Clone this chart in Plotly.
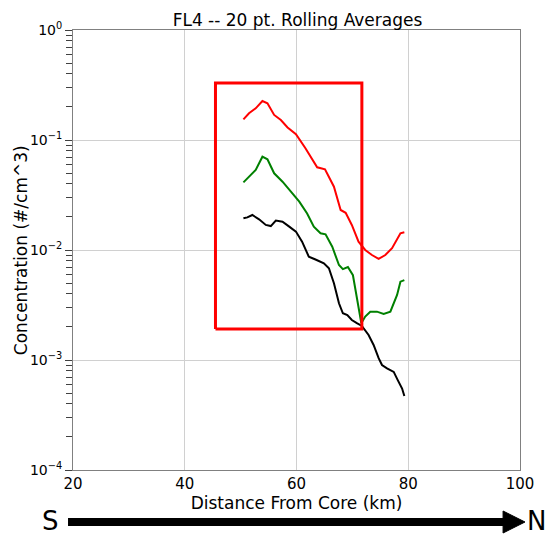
import plotly.graph_objects as go

# Distance from core (km) and concentrations (#/cm^3)
red_x = [50.5, 51.5, 52.7, 53.9, 54.8, 56.0, 57.2, 58.4, 59.9, 61.6, 63.7, 65.1, 66.7, 67.9,
         68.8, 69.9, 71.1, 72.3, 73.5, 74.7, 75.9, 77.1, 78.6, 79.3]
red_y = [0.154, 0.175, 0.194, 0.226, 0.216, 0.169, 0.152, 0.130, 0.113, 0.0841, 0.0565, 0.0542,
         0.0376, 0.0231, 0.0218, 0.0169, 0.0119, 0.0100, 0.0090, 0.0083, 0.0090, 0.0104, 0.0142, 0.0145]

green_x = [50.5, 51.5, 52.7, 53.9, 54.8, 56.0, 57.5, 59.0, 60.5, 61.9, 63.1, 64.3, 65.2, 66.4,
           67.6, 68.3, 69.2, 70.1, 70.8, 71.6, 72.3, 73.2, 74.4, 75.6, 76.8, 78.0, 78.6, 79.3]
green_y = [0.0412, 0.0464, 0.0534, 0.0705, 0.0668, 0.0498, 0.0418, 0.0339, 0.0275, 0.0215,
           0.0163, 0.0142, 0.0139, 0.0107, 0.0073, 0.0067, 0.0070, 0.0059, 0.00376, 0.00216,
           0.00248, 0.00275, 0.00275, 0.00262, 0.00275, 0.00390, 0.00515, 0.00533]

black_x = [50.5, 51.2, 52.1, 53.3, 54.5, 55.4, 56.3, 57.5, 58.7, 59.9, 61.0, 62.2, 63.4, 64.9,
           65.8, 66.7, 67.6, 68.3, 69.1, 69.9, 70.8, 71.7, 72.9, 73.8, 74.7, 75.3, 76.2, 77.4,
           78.1, 78.9, 79.3]
black_y = [0.0194, 0.0198, 0.0208, 0.0190, 0.0169, 0.0165, 0.0185, 0.0181, 0.0163, 0.0147,
           0.0119, 0.0087, 0.0082, 0.00757, 0.00682, 0.00498, 0.00328, 0.00266, 0.00256,
           0.00231, 0.00216, 0.00204, 0.00169, 0.00137, 0.00104, 0.00090, 0.00084, 0.00078,
           0.00066, 0.00055, 0.00047]

# Highlight box (data coordinates)
box_x = [45.5, 71.7, 71.7, 45.5, 45.5]
box_y = [0.00191, 0.00191, 0.33, 0.33, 0.00191]

x_ticks = [20, 40, 60, 80, 100]
y_ticks = [1e-4, 1e-3, 1e-2, 1e-1, 1]
y_ticktext = ["10<sup>−4</sup>", "10<sup>−3</sup>", "10<sup>−2</sup>", "10<sup>−1</sup>", "10<sup>0</sup>"]
y_minor = [m * 10 ** e for e in range(-4, 0) for m in range(2, 10)]

fig = go.Figure()
fig.add_trace(go.Scatter(x=red_x, y=red_y, mode="lines", line=dict(color="#ff0000", width=2), showlegend=False))
fig.add_trace(go.Scatter(x=green_x, y=green_y, mode="lines", line=dict(color="#008000", width=2), showlegend=False))
fig.add_trace(go.Scatter(x=black_x, y=black_y, mode="lines", line=dict(color="#000000", width=2), showlegend=False))
fig.add_trace(go.Scatter(x=box_x, y=box_y, mode="lines", line=dict(color="#ff0000", width=3), showlegend=False))

font = "DejaVu Sans"
fig.update_layout(
    width=546, height=534,
    margin=dict(l=73, r=24, t=30, b=64),
    paper_bgcolor="white", plot_bgcolor="white",
    font=dict(family=font, color="black", size=15),
    title=dict(text="FL4 -- 20 pt. Rolling Averages", x=(73 + 522) / 2 / 546, xanchor="center",
               y=1 - 20 / 534, yanchor="middle", font=dict(size=17)),
    xaxis=dict(range=[20, 100], tickvals=x_ticks, ticks="", showgrid=True, gridcolor="#d0d0d0",
               showline=True, linecolor="#808080", mirror=True, zeroline=False,
               title=dict(text="Distance From Core (km)", font=dict(size=17), standoff=1),
               tickfont=dict(size=15)),
    yaxis=dict(type="log", range=[-4, 0], tickvals=y_ticks, ticktext=y_ticktext, ticks="outside",
               ticklen=7, tickcolor="#404040", showgrid=True, gridcolor="#d0d0d0",
               showline=True, linecolor="#808080", mirror=True, zeroline=False,
               minor=dict(tickvals=y_minor, ticks="outside", ticklen=6, tickcolor="#404040", showgrid=False),
               tickfont=dict(size=14)),
)

# S -> N arrow below the plot (paper coordinates)
def px_to_paper_x(px):
    return (px - 73) / 449

def py_to_paper_y(py):
    return (470 - py) / 440

fig.add_annotation(text="Concentration (#/cm^3)", xref="paper", yref="paper",
                   x=px_to_paper_x(21), y=0.5, textangle=-90, showarrow=False,
                   font=dict(size=17, family=font), xanchor="center", yanchor="middle")

fig.add_shape(type="line", xref="paper", yref="paper",
              x0=px_to_paper_x(68), x1=px_to_paper_x(508), y0=py_to_paper_y(522), y1=py_to_paper_y(522),
              line=dict(color="black", width=8))
fig.add_shape(type="path", xref="paper", yref="paper",
              path="M {} {} L {} {} L {} {} Z".format(px_to_paper_x(505), py_to_paper_y(511),
                                                      px_to_paper_x(527), py_to_paper_y(522),
                                                      px_to_paper_x(505), py_to_paper_y(533)),
              fillcolor="black", line=dict(color="black", width=1))
fig.add_annotation(text="S", xref="paper", yref="paper", x=px_to_paper_x(50), y=py_to_paper_y(521),
                   showarrow=False, font=dict(size=26, family=font), xanchor="center", yanchor="middle",
                   borderpad=0)
fig.add_annotation(text="N", xref="paper", yref="paper", x=px_to_paper_x(528), y=py_to_paper_y(521),
                   showarrow=False, font=dict(size=26, family=font), xanchor="left", yanchor="middle",
                   borderpad=0)

fig.write_html("out.html")
